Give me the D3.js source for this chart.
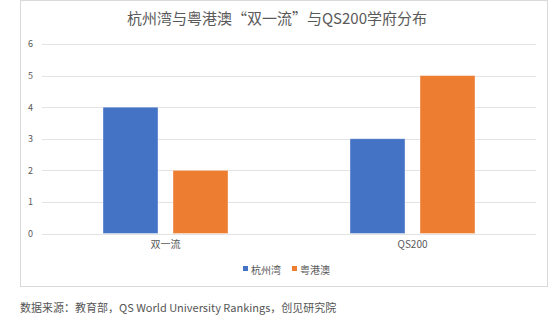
<!DOCTYPE html>
<html>
<head>
<meta charset="utf-8">
<script src="https://cdn.jsdelivr.net/npm/d3@7"></script>
<style>
  html, body { margin: 0; padding: 0; background: #fff; }
  svg { display: block; }
  text { font-family: "Noto Sans CJK SC", "Noto Sans", sans-serif; }
</style>
</head>
<body>
<svg id="chart" width="550" height="327"></svg>
<script>
const categories = ["双一流", "QS200"];
const seriesNames = ["杭州湾", "粤港澳"];
const hangzhouBay = [4, 3];
const guangdongHKMacao = [2, 5];
const yTicks = [0, 1, 2, 3, 4, 5, 6];
const colors = ["#4472C4", "#ED7D31"];
const titleText = "杭州湾与粤港澳“双一流”与QS200学府分布";
const sourceText = "数据来源：教育部，QS World University Rankings，创见研究院";

const series = [hangzhouBay, guangdongHKMacao];

const svg = d3.select("#chart");

// chart frame
svg.append("rect")
  .attr("x", 20.5).attr("y", 0.5)
  .attr("width", 527).attr("height", 286)
  .attr("fill", "#fff").attr("stroke", "#d9d9d9");

const plot = { left: 42, right: 536, top: 44, bottom: 233.5 };

const x0 = d3.scaleBand().domain(categories).range([plot.left, plot.right]);
const x1 = d3.scaleBand().domain(d3.range(series.length))
  .range([0, 125]).paddingInner(0.2143);
const y = d3.scaleLinear().domain([0, 6]).range([plot.bottom, plot.top]);

// gridlines
svg.append("g").selectAll("line").data(yTicks).join("line")
  .attr("x1", plot.left).attr("x2", plot.right)
  .attr("y1", d => Math.round(y(d)) + 0.5).attr("y2", d => Math.round(y(d)) + 0.5)
  .attr("stroke", "#e3e3e3").attr("stroke-width", 1);

// y axis labels
const yAxis = d3.axisLeft(y).tickValues(yTicks).tickFormat(d3.format("d"))
  .tickSize(0).tickPadding(0);
const yg = svg.append("g").attr("transform", `translate(33,0)`).call(yAxis);
yg.select(".domain").remove();
yg.selectAll("text").attr("font-size", 9).attr("fill", "#595959")
  .attr("font-family", "Noto Sans CJK SC, sans-serif");

// bars
const groups = svg.append("g").selectAll("g").data(categories).join("g")
  .attr("transform", c => `translate(${x0(c) + x0.bandwidth() / 2 - 62.5},0)`);
groups.selectAll("rect")
  .data((c, ci) => series.map((s, si) => ({ si, v: s[ci] })))
  .join("rect")
  .attr("x", d => x1(d.si))
  .attr("width", x1.bandwidth())
  .attr("y", d => y(d.v))
  .attr("height", d => y(0) - y(d.v))
  .attr("fill", d => colors[d.si])
  .attr("stroke", "#fff").attr("stroke-opacity", 0.5).attr("stroke-width", 0.75);

// category axis labels
const xAxis = d3.axisBottom(x0).tickSize(0).tickPadding(0);
const xg = svg.append("g").attr("transform", `translate(0,${plot.bottom + 7})`).call(xAxis);
xg.select(".domain").remove();
xg.selectAll("text").attr("font-size", 10).attr("fill", "#595959")
  .attr("font-family", "Noto Sans CJK SC, sans-serif");

// title
svg.append("text")
  .attr("x", 277).attr("y", 24)
  .attr("text-anchor", "middle")
  .attr("font-size", 15).attr("fill", "#595959")
  .text(titleText);

// legend
const legendPos = [243, 292];
const lg = svg.append("g").selectAll("g").data(seriesNames).join("g")
  .attr("transform", (d, i) => `translate(${legendPos[i]},270)`);
lg.append("rect").attr("x", 0).attr("y", -4).attr("width", 5).attr("height", 5)
  .attr("fill", (d, i) => colors[i]);
lg.append("text").attr("x", 8).attr("y", 0).attr("dy", "0.35em")
  .attr("font-size", 10).attr("fill", "#595959").text(d => d);

// source note
svg.append("text")
  .attr("x", 20).attr("y", 312)
  .attr("font-size", 11).attr("fill", "#555")
  .text(sourceText);
</script>
</body>
</html>
